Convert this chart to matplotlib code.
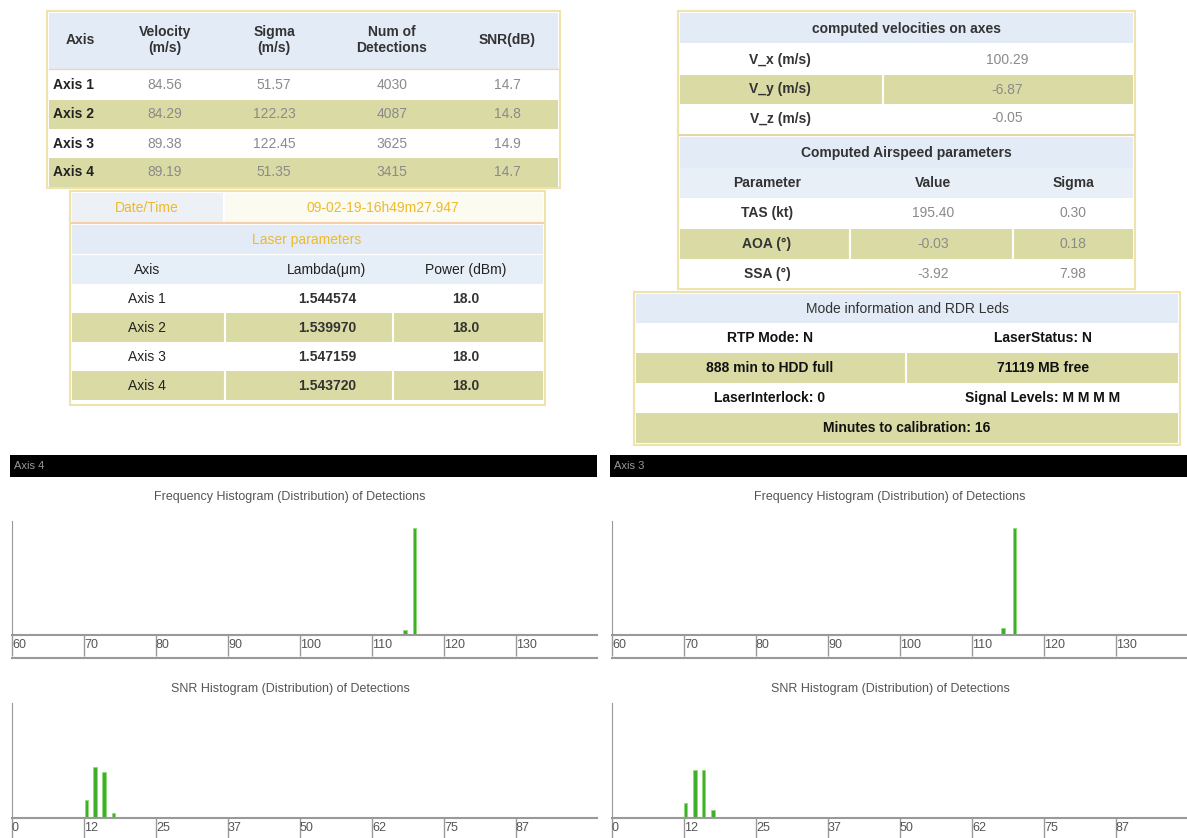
import matplotlib.pyplot as plt
from matplotlib.patches import Rectangle
from matplotlib.lines import Line2D

plt.rcParams['font.family'] = ['Liberation Sans', 'DejaVu Sans']

# ---- table data ----
axis_names = ['Axis 1', 'Axis 2', 'Axis 3', 'Axis 4']
velocity = [84.56, 84.29, 89.38, 89.19]
sigma = [51.57, 122.23, 122.45, 51.35]
num_det = [4030, 4087, 3625, 3415]
snr_db = [14.7, 14.8, 14.9, 14.7]

date_time = '09-02-19-16h49m27.947'
lambda_um = [1.544574, 1.539970, 1.547159, 1.543720]
power_dbm = [18.0, 18.0, 18.0, 18.0]

vel_labels = ['V_x (m/s)', 'V_y (m/s)', 'V_z (m/s)']
vel_values = [100.29, -6.87, -0.05]

air_params = ['TAS (kt)', 'AOA (\u00b0)', 'SSA (\u00b0)']
air_values = [195.40, -0.03, -3.92]
air_sigma = [0.30, 0.18, 7.98]

mode_left = ['RTP Mode: N', '888 min to HDD full', 'LaserInterlock: 0']
mode_right = ['LaserStatus: N', '71119 MB free', 'Signal Levels: M M M M']
calib_minutes = 16

# ---- histogram data (relative heights) ----
panel_names = ['Axis 4', 'Axis 3']
freq_ticks = [60, 70, 80, 90, 100, 110, 120, 130]
freq_x = [[114.6, 115.9], [114.3, 115.9]]
freq_h = [[0.04, 0.94], [0.06, 0.94]]
snr_ticks = [0, 12.5, 25, 37.5, 50, 62.5, 75, 87.5]
snr_tick_labels = ['0', '12', '25', '37', '50', '62', '75', '87']
snr_x = [[12.9, 14.4, 16.0, 17.6], [12.8, 14.4, 15.9, 17.5]]
snr_h = [[0.16, 0.44, 0.40, 0.04], [0.13, 0.42, 0.42, 0.07]]

W, H = 1187, 838
fig = plt.figure(figsize=(W / 100, H / 100), dpi=100)
fig.patch.set_facecolor('white')

BLUE = '#e2ebf6'
OLIVE = '#dadba4'
BORDER = '#efe3ad'
GREY = '#8a8a8a'
DARK = '#222222'
GOLD = '#eeb92c'


def fx(x):
    return x / W


def fy(y):
    return 1 - y / H


def box(x0, y0, x1, y1, fc, ec='none', lw=0):
    fig.add_artist(Rectangle((fx(x0), fy(y1)), fx(x1) - fx(x0), fy(y0) - fy(y1),
                             facecolor=fc, edgecolor=ec, linewidth=lw,
                             transform=fig.transFigure))


def hline(x0, x1, y, color, lw=1):
    fig.add_artist(Line2D([fx(x0), fx(x1)], [fy(y), fy(y)], color=color, lw=lw,
                          transform=fig.transFigure))


def vline(x, y0, y1, color, lw=1):
    fig.add_artist(Line2D([fx(x), fx(x)], [fy(y0), fy(y1)], color=color, lw=lw,
                          transform=fig.transFigure))


def txt(x, y, s, ha='center', size=10, color=DARK, weight='normal'):
    fig.text(fx(x), fy(y), s, ha=ha, va='center', fontsize=size, color=color,
             fontweight=weight)


# ---- top left table ----
box(47, 11, 560, 188, 'white', BORDER, 1.5)
box(49, 13, 558, 69, BLUE)
hline(49, 558, 69.5, '#f5d2b8', 1)
cols = [80, 165, 274, 392, 507]
txt(cols[0], 40, 'Axis', weight='bold', color='#333333')
txt(cols[1], 40, 'Velocity\n(m/s)', weight='bold', color='#333333')
txt(cols[2], 40, 'Sigma\n(m/s)', weight='bold', color='#333333')
txt(cols[3], 40, 'Num of\nDetections', weight='bold', color='#333333')
txt(cols[4], 40, 'SNR(dB)', weight='bold', color='#333333')
row_y = [85, 114.5, 143.5, 172.5]
for i in range(4):
    if i % 2 == 1:
        box(49, row_y[i] - 14.5, 558, row_y[i] + 14.5, OLIVE)
    txt(53, row_y[i], axis_names[i], ha='left', weight='bold')
    txt(cols[1], row_y[i], f'{velocity[i]:.2f}', color=GREY)
    txt(cols[2], row_y[i], f'{sigma[i]:.2f}', color=GREY)
    txt(cols[3], row_y[i], f'{num_det[i]}', color=GREY)
    txt(cols[4], row_y[i], f'{snr_db[i]:.1f}', color=GREY)

# ---- laser table ----
box(70, 191, 545, 405, 'white', BORDER, 1.5)
box(72, 193, 223, 222, '#edf1f6')
box(225, 193, 543, 222, '#fbfbf1')
hline(72, 543, 223.5, '#f5cfaa', 1.5)
txt(147, 208, 'Date/Time', color=GOLD)
txt(383, 208, date_time, color=GOLD)
box(72, 225, 543, 254, BLUE)
txt(307, 240, 'Laser parameters', color=GOLD)
box(72, 255, 543, 284, '#e6eef7')
lcols = [147, 327, 466]
txt(lcols[0], 270, 'Axis')
txt(lcols[1], 270, 'Lambda(\u03bcm)')
txt(lcols[2], 270, 'Power (dBm)')
lrow_y = [299, 328, 357, 386]
for i in range(4):
    if i % 2 == 1:
        box(72, lrow_y[i] - 14.5, 543, lrow_y[i] + 14.5, OLIVE)
        vline(225, lrow_y[i] - 14.5, lrow_y[i] + 14.5, 'white', 1.5)
        vline(393, lrow_y[i] - 14.5, lrow_y[i] + 14.5, 'white', 1.5)
    txt(lcols[0], lrow_y[i], axis_names[i])
    txt(lcols[1], lrow_y[i], f'{lambda_um[i]:.6f}', weight='bold', color='#333333')
    txt(lcols[2], lrow_y[i], f'{power_dbm[i]:.1f}', weight='bold', color='#333333')

# ---- computed velocities / airspeed table ----
box(678, 11, 1135, 289, 'white', BORDER, 1.5)
box(680, 13, 1133, 43, BLUE)
txt(906, 29, 'computed velocities on axes', weight='bold', color='#333333')
vrow_y = [60, 89.5, 118.5]
for i in range(3):
    if i % 2 == 1:
        box(680, vrow_y[i] - 14.5, 1133, vrow_y[i] + 14.5, OLIVE)
        vline(883, vrow_y[i] - 14.5, vrow_y[i] + 14.5, 'white', 1.5)
    txt(780, vrow_y[i], vel_labels[i], weight='bold', color='#333333')
    txt(1007, vrow_y[i], f'{vel_values[i]:.2f}', color=GREY)
hline(680, 1133, 135, '#e2d7a8', 1.5)
box(680, 137, 1133, 168, BLUE)
txt(906, 153, 'Computed Airspeed parameters', weight='bold', color='#333333')
box(680, 168, 1133, 198, '#e8eff7')
acols = [767, 933, 1073]
txt(acols[0], 183, 'Parameter', weight='bold', color='#333333')
txt(acols[1], 183, 'Value', weight='bold', color='#333333')
txt(acols[2], 183, 'Sigma', weight='bold', color='#333333')
arow_y = [213, 244, 273.5]
for i in range(3):
    if i % 2 == 1:
        box(680, arow_y[i] - 15, 1133, arow_y[i] + 15, OLIVE)
        vline(850, arow_y[i] - 15, arow_y[i] + 15, 'white', 1.5)
        vline(1013, arow_y[i] - 15, arow_y[i] + 15, 'white', 1.5)
    txt(acols[0], arow_y[i], air_params[i], weight='bold', color='#333333')
    txt(acols[1], arow_y[i], f'{air_values[i]:.2f}', color=GREY)
    txt(acols[2], arow_y[i], f'{air_sigma[i]:.2f}', color=GREY)

# ---- mode table ----
box(634, 292, 1180, 445, 'white', BORDER, 1.5)
box(636, 294, 1178, 323, BLUE)
txt(907, 308.5, 'Mode information and RDR Leds', color='#333333')
mrow_y = [338, 368, 398]
for i in range(3):
    if i % 2 == 1:
        box(636, mrow_y[i] - 15, 1178, mrow_y[i] + 15, OLIVE)
        vline(906, mrow_y[i] - 15, mrow_y[i] + 15, 'white', 1.5)
    txt(770, mrow_y[i], mode_left[i], weight='bold', color='#111111')
    txt(1043, mrow_y[i], mode_right[i], weight='bold', color='#111111')
box(636, 413, 1178, 443, OLIVE)
txt(907, 428, f'Minutes to calibration: {calib_minutes}', weight='bold', color='#111111')

# ---- histogram panels ----
panels = [(12, 597), (612, 1187)]
px_unit = 7.2


def hist_axes(x0, x1, ytop, ybot, lo, scale, ticks, labels, xs, hs, width):
    ax = fig.add_axes([fx(x0), fy(ybot), fx(x1) - fx(x0), fy(ytop) - fy(ybot)])
    ax.set_xlim(lo, lo + (x1 - x0) / scale)
    ax.set_ylim(0, 1)
    ax.bar(xs, hs, width=width, color='#3fae2a', edgecolor='#8fdc7a', linewidth=0.6,
           align='center')
    for s in ['top', 'right']:
        ax.spines[s].set_visible(False)
    ax.spines['left'].set_color('#999999')
    ax.spines['bottom'].set_color('#999999')
    ax.spines['bottom'].set_linewidth(1.5)
    ax.set_yticks([])
    ax.set_xticks(ticks)
    ax.set_xticklabels(labels)
    ax.tick_params(axis='x', direction='out', length=15, width=1, color='#999999',
                   pad=-12, labelsize=9, labelcolor='#555555')
    for lab in ax.get_xticklabels():
        lab.set_horizontalalignment('left')
    band = 23 / (ybot - ytop)
    ax.plot([0, 1], [-band, -band], transform=ax.transAxes, clip_on=False,
            color='#999999', lw=1.5)
    ax.set_facecolor('none')
    return ax


for p in range(2):
    x0, x1 = panels[p]
    box(x0 - 2, 455, x1, 477, 'black')
    txt(x0 + 2, 466, panel_names[p], ha='left', size=8, color='#9a9a9a')
    mid = x0 + 278
    fig.text(fx(mid), fy(497), 'Frequency Histogram (Distribution) of Detections',
             ha='center', va='center', fontsize=9, color='#555555')
    hist_axes(x0, x1, 521, 635, 60, px_unit, freq_ticks,
              [str(t) for t in freq_ticks], freq_x[p], freq_h[p], 0.5)
    fig.text(fx(mid), fy(689), 'SNR Histogram (Distribution) of Detections',
             ha='center', va='center', fontsize=9, color='#555555')
    hist_axes(x0, x1, 703, 818, 0, px_unit * 10 / 12.5, snr_ticks,
              snr_tick_labels, snr_x[p], snr_h[p], 0.6)

fig.savefig('out.png', dpi=100, facecolor='white')
